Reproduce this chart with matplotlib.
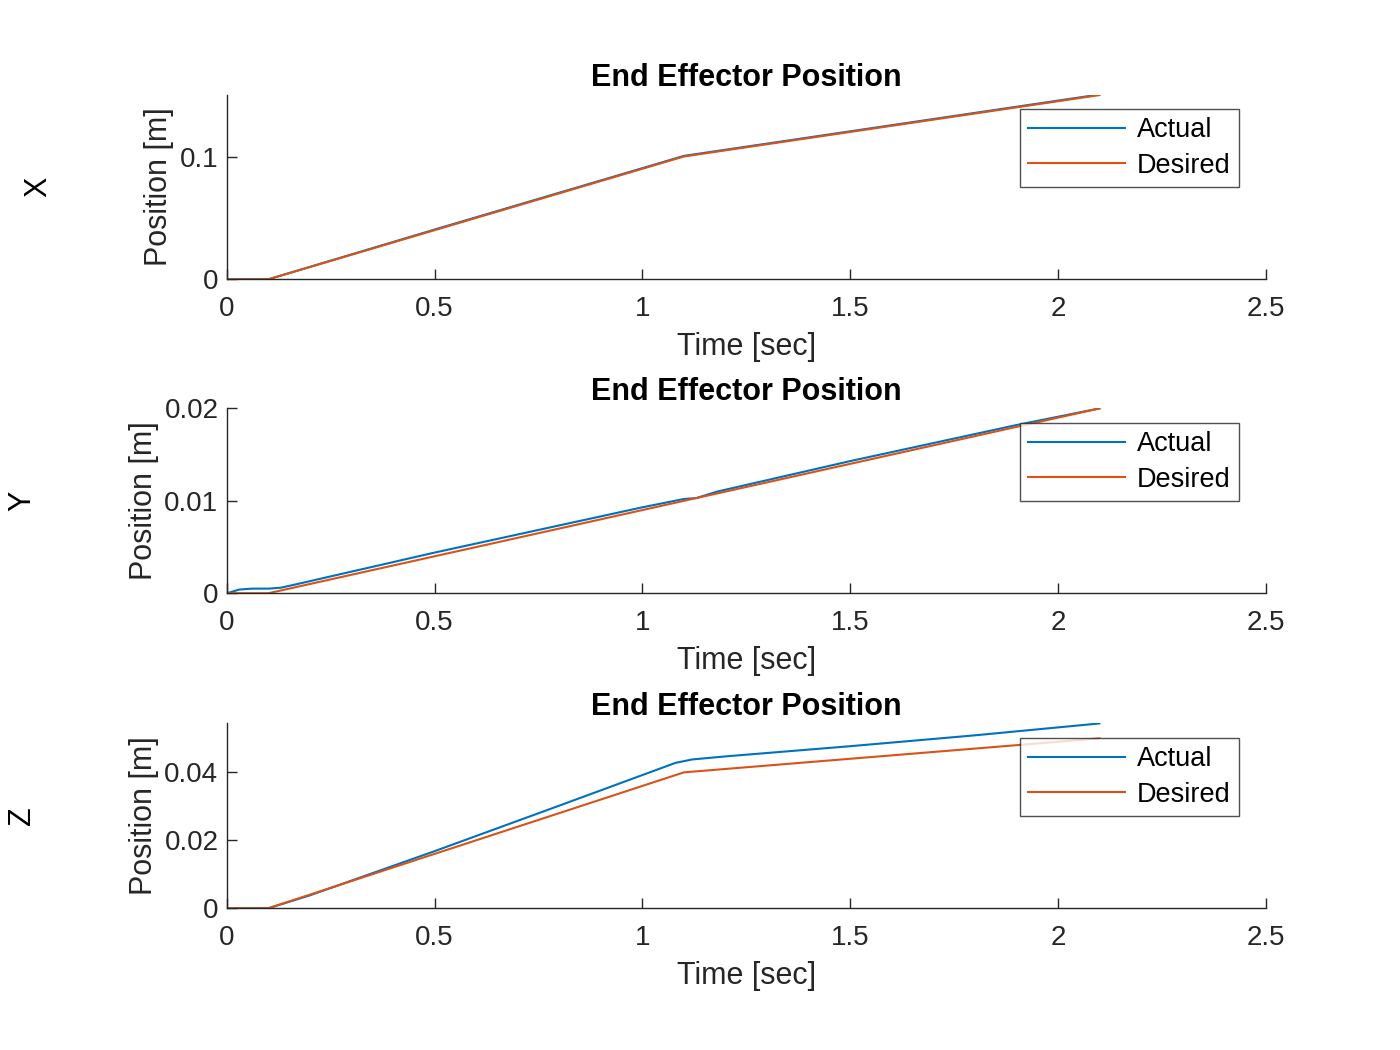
import numpy as np
import matplotlib.pyplot as plt

plt.rcParams['font.family'] = ['Liberation Sans', 'DejaVu Sans']

# desired trajectory (waypoints)
t_des = [0.0, 0.1, 1.1, 2.1]
x_des = [0.0, 0.0, 0.10, 0.15]
y_des = [0.0, 0.0, 0.010, 0.020]
z_des = [0.0, 0.0, 0.040, 0.050]

# actual trajectory
t_act_x = [0.0, 0.1, 0.5, 1.1, 1.5, 2.1]
x_act = [0.0, 0.0, 0.0405, 0.1005, 0.1205, 0.1505]

t_act_y = [0.0, 0.03, 0.06, 0.1, 0.13, 0.17, 0.5, 1.0, 1.1, 1.13, 1.18, 1.5, 1.9, 2.1]
y_act = [0.0, 0.0004, 0.0005, 0.0005, 0.0006, 0.0010, 0.0044, 0.0093, 0.0102,
         0.0103, 0.0110, 0.0143, 0.0182, 0.0200]

t_act_z = [0.0, 0.1, 0.2, 0.5, 0.8, 1.0, 1.08, 1.12, 1.2, 1.5, 1.8, 2.1]
z_act = [0.0, 0.0, 0.0038, 0.0168, 0.0302, 0.0392, 0.0428, 0.0438, 0.0447,
         0.0477, 0.0509, 0.0544]

x_ticks = [0, 0.5, 1, 1.5, 2, 2.5]
x_ticklabels = ['0', '0.5', '1', '1.5', '2', '2.5']

blue = '#0072BD'
orange = '#D95319'
axcol = '#262626'

fig = plt.figure(figsize=(14, 10.5), dpi=100)

rows = [
    ('X', t_act_x, x_act, x_des, [0, 0.1505], [0, 0.1], ['0', '0.1'], 0.734, 38),
    ('Y', t_act_y, y_act, y_des, [0, 0.02], [0, 0.01, 0.02], ['0', '0.01', '0.02'], 0.435, 22),
    ('Z', t_act_z, z_act, z_des, [0, 0.0544], [0, 0.02, 0.04], ['0', '0.02', '0.04'], 0.135, 22),
]

for name, ta, act, des, ylim, yt, ytl, bottom, sx in rows:
    ax = fig.add_axes([0.162, bottom, 0.742, 0.176])
    ax.plot(ta, act, color=blue, lw=1.5, label='Actual')
    ax.plot(t_des, des, color=orange, lw=1.5, label='Desired')
    ax.set_xlim(0, 2.5)
    ax.set_ylim(ylim)
    ax.set_xticks(x_ticks)
    ax.set_xticklabels(x_ticklabels)
    ax.set_yticks(yt)
    ax.set_yticklabels(ytl)
    for s in ['top', 'right']:
        ax.spines[s].set_visible(False)
    for s in ['left', 'bottom']:
        ax.spines[s].set_color(axcol)
        ax.spines[s].set_linewidth(1.0)
    ax.tick_params(direction='in', length=7, width=1.0, colors=axcol,
                   labelsize=20, pad=6)
    ax.tick_params(axis='x', pad=12)
    ax.set_xlabel('Time [sec]', fontsize=22, color=axcol, labelpad=7)
    ax.set_ylabel('Position [m]', fontsize=22, color=axcol, labelpad=4)
    ax.set_title('End Effector Position', fontsize=22, fontweight='bold', pad=6)
    leg = ax.legend(loc='upper right', bbox_to_anchor=(0.974, 0.92), fontsize=19.5,
                    frameon=True, fancybox=False, handlelength=3.55, handletextpad=0.45,
                    borderpad=0.3, labelspacing=0.34, borderaxespad=0)
    leg.get_frame().set_edgecolor(axcol)
    leg.get_frame().set_linewidth(1.0)
    fig.text(sx / 1400, bottom + 0.088, name,
             rotation=90, fontsize=22, ha='center', va='center')

fig.savefig('out.png', dpi=100)
